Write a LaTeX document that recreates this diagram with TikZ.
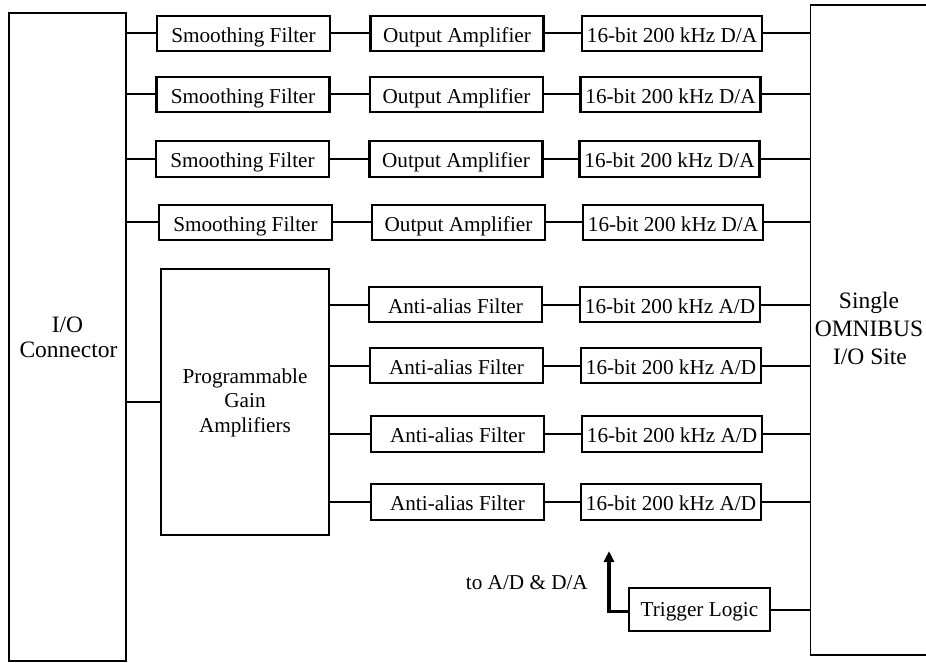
\documentclass[tikz,border=0pt]{standalone}
\usepackage{fontspec}
\setmainfont{Liberation Serif}
\usetikzlibrary{arrows.meta}
\begin{document}
\begin{tikzpicture}[x=1pt,y=-1pt,
  every node/.style={font=\fontsize{21.2}{25}\selectfont},
  blk/.style={draw, line width=2.3pt, inner sep=0pt, minimum height=35.5pt,
              text height=17.6pt, text depth=0pt},
  sfbox/.style={blk, minimum width=173pt},
  oabox/.style={blk, minimum width=173pt},
  dabox/.style={blk, minimum width=180pt},
  aabox/.style={blk, minimum width=173pt},
  adbox/.style={blk, minimum width=180pt},
  bigbox/.style={line width=1.5pt, inner sep=0pt},
  bigtext/.style={anchor=base, inner sep=0pt, font=\fontsize{23.5}{28}\selectfont},
  pgatext/.style={anchor=base, inner sep=0pt},
  wire/.style={line width=2pt},
  trig/.style={line width=3.6pt, -{Triangle[length=11pt,width=10pt]}}]

  \useasboundingbox (0,0) rectangle (926,663);

  % I/O connector and OMNIBUS site
  \node[bigbox, draw, minimum width=117pt, minimum height=648pt] (io) at (67.5,337) {};
  \node[bigtext] (iot1) at (67.5,332) {I/O};
  \node[bigtext] (iot2) at (68.5,357) {Connector};

  \node[bigbox, minimum width=115pt, minimum height=648pt] (omni) at (868.5,330) {};
  \draw[line width=1.5pt] (omni.north east) -- (omni.north west) -- (omni.south west) -- (omni.south east);
  \node[bigtext] (omt1) at (869,308) {Single};
  \node[bigtext] (omt2) at (869,336) {OMNIBUS};
  \node[bigtext] (omt3) at (870,364) {I/O Site};

  % Output channels
  \node[sfbox] (sf1) at (243.5,33.5) {Smoothing Filter};
  \node[sfbox] (sf2) at (243,94.5) {Smoothing Filter};
  \node[sfbox] (sf3) at (242.5,159) {Smoothing Filter};
  \node[sfbox] (sf4) at (245.5,222.5) {Smoothing Filter};

  \node[oabox] (oa1) at (457,33.5) {Output Amplifier};
  \node[oabox] (oa2) at (456.5,94.5) {Output Amplifier};
  \node[oabox] (oa3) at (456,159) {Output Amplifier};
  \node[oabox] (oa4) at (458.5,222.5) {Output Amplifier};

  \node[dabox] (da1) at (672,33.5) {16-bit 200 kHz D/A};
  \node[dabox] (da2) at (670.5,94.5) {16-bit 200 kHz D/A};
  \node[dabox] (da3) at (669.5,159) {16-bit 200 kHz D/A};
  \node[dabox] (da4) at (673,222.5) {16-bit 200 kHz D/A};

  % Input channels
  \node[draw, line width=2.3pt, inner sep=0pt,
        minimum width=168pt, minimum height=266pt] (pga) at (245,402) {};
  \node[pgatext] (pgt1) at (245,383) {Programmable};
  \node[pgatext] (pgt2) at (245,407.5) {Gain};
  \node[pgatext] (pgt3) at (245,432) {Amplifiers};

  \node[aabox] (aa1) at (455.5,304.5) {Anti-alias Filter};
  \node[aabox] (aa2) at (456.5,365.5) {Anti-alias Filter};
  \node[aabox] (aa3) at (457.5,434) {Anti-alias Filter};
  \node[aabox] (aa4) at (457.5,502) {Anti-alias Filter};

  \node[adbox] (ad1) at (670,304.5) {16-bit 200 kHz A/D};
  \node[adbox] (ad2) at (671,365.5) {16-bit 200 kHz A/D};
  \node[adbox] (ad3) at (672,434) {16-bit 200 kHz A/D};
  \node[adbox] (ad4) at (671,502) {16-bit 200 kHz A/D};

  % Trigger
  \node[blk, minimum width=141pt, minimum height=43pt, text height=14.4pt] (tl) at (699.5,609.5) {Trigger Logic};
  \node[anchor=base east, inner sep=0pt] (lbl) at (588,589) {to A/D \& D/A};
  \coordinate (tip) at (609,551);

  % Output channel wiring
  \foreach \i in {1,2,3,4} {
    \draw[wire] (io.east |- sf\i.west) -- (sf\i.west);
    \draw[wire] (sf\i) -- (oa\i);
    \draw[wire] (oa\i) -- (da\i);
    \draw[wire] (da\i.east) -- (omni.west |- da\i.east);
  }

  % Input channel wiring
  \draw[wire] (io.east |- pga.west) -- (pga.west);
  \foreach \i in {1,2,3,4} {
    \draw[wire] (pga.east |- aa\i.west) -- (aa\i.west);
    \draw[wire] (aa\i) -- (ad\i);
    \draw[wire] (ad\i.east) -- (omni.west |- ad\i.east);
  }

  % Trigger wiring
  \draw[wire] (tl.east) -- (omni.west |- tl.east);
  \draw[trig] ([yshift=-2pt]tl.west) -| (tip);
\end{tikzpicture}
\end{document}
